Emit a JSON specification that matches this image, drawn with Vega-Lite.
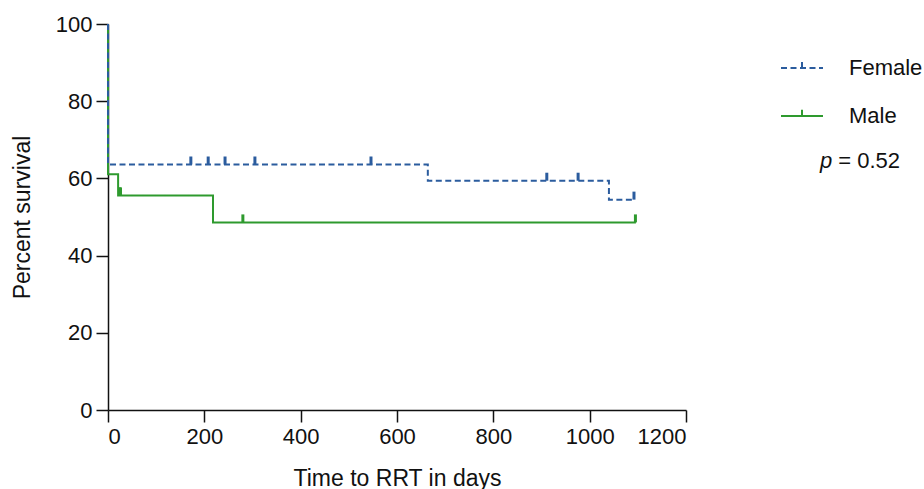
{
  "$schema": "https://vega.github.io/schema/vega-lite/v6.json",
  "width": 578,
  "height": 386,
  "autosize": {"type": "none"},
  "padding": {"left": 108, "top": 24, "right": 238, "bottom": 79},
  "background": "white",
  "config": {
    "font": "Liberation Sans",
    "view": {"stroke": null},
    "axis": {
      "domainColor": "#111", "domainWidth": 1.5, "tickColor": "#111", "tickWidth": 1.5,
      "labelColor": "#111", "titleColor": "#111", "labelFontSize": 22, "titleFontSize": 23,
      "titleFontWeight": "normal", "grid": false, "tickSize": 12, "labelPadding": 4
    },
    "legend": {
      "orient": "none", "legendX": 672, "legendY": 22,
      "symbolType": "M-1,0H1M0,0V-0.3", "symbolSize": 1764, "symbolStrokeWidth": 2,
      "labelFontSize": 22, "labelColor": "#111", "labelOffset": 25, "rowPadding": 15, "padding": 0
    }
  },
  "datasets": {
    "curves": [
      {"group": "Female", "t": 0, "s": 100},
      {"group": "Female", "t": 0, "s": 63.6},
      {"group": "Female", "t": 664, "s": 59.4},
      {"group": "Female", "t": 1040, "s": 54.5},
      {"group": "Female", "t": 1093, "s": 54.5},
      {"group": "Male", "t": 0, "s": 100},
      {"group": "Male", "t": 0, "s": 61.1},
      {"group": "Male", "t": 21, "s": 55.6},
      {"group": "Male", "t": 218, "s": 48.6},
      {"group": "Male", "t": 1096, "s": 48.6}
    ],
    "censors": [
      {"group": "Female", "t": 172, "s": 63.6},
      {"group": "Female", "t": 208, "s": 63.6},
      {"group": "Female", "t": 243, "s": 63.6},
      {"group": "Female", "t": 305, "s": 63.6},
      {"group": "Female", "t": 546, "s": 63.6},
      {"group": "Female", "t": 911, "s": 59.4},
      {"group": "Female", "t": 976, "s": 59.4},
      {"group": "Female", "t": 1092, "s": 54.5},
      {"group": "Male", "t": 24, "s": 55.6},
      {"group": "Male", "t": 26, "s": 55.6},
      {"group": "Male", "t": 280, "s": 48.6},
      {"group": "Male", "t": 1095, "s": 48.6}
    ],
    "ptext": [{"t": 1478, "s": 64.6}],
    "vtext": [{"t": 1516, "s": 64.6}]
  },
  "layer": [
    {
      "data": {"name": "curves"},
      "transform": [{"filter": "datum.group === 'Male'"}],
      "mark": {"type": "line", "interpolate": "step-after", "strokeWidth": 2},
      "encoding": {
        "x": {"field": "t", "type": "quantitative",
              "scale": {"domain": [0, 1200], "nice": false},
              "axis": {"values": [0, 200, 400, 600, 800, 1000, 1200], "format": "d", "title": "Time to RRT in days", "titlePadding": 20}},
        "y": {"field": "s", "type": "quantitative",
              "scale": {"domain": [0, 100], "nice": false},
              "axis": {"values": [0, 20, 40, 60, 80, 100], "title": "Percent survival", "titlePadding": 21}},
        "color": {"field": "group", "type": "nominal",
                  "scale": {"domain": ["Female", "Male"], "range": ["#2b5c9e", "#2e9a2e"]},
                  "legend": {"title": null}},
        "strokeDash": {"field": "group", "type": "nominal",
                       "scale": {"domain": ["Female", "Male"], "range": [[6, 3.5], [1, 0]]},
                       "legend": {"title": null}}
      }
    },
    {
      "data": {"name": "curves"},
      "transform": [{"filter": "datum.group === 'Female'"}],
      "mark": {"type": "line", "interpolate": "step-after", "strokeWidth": 2},
      "encoding": {
        "x": {"field": "t", "type": "quantitative"},
        "y": {"field": "s", "type": "quantitative"},
        "color": {"field": "group", "type": "nominal", "legend": {"title": null}},
        "strokeDash": {"field": "group", "type": "nominal", "legend": {"title": null}}
      }
    },
    {
      "data": {"name": "censors"},
      "mark": {"type": "tick", "orient": "vertical", "size": 8, "thickness": 3, "yOffset": -4, "opacity": 1},
      "encoding": {
        "x": {"field": "t", "type": "quantitative"},
        "y": {"field": "s", "type": "quantitative"},
        "color": {"field": "group", "type": "nominal", "legend": {"title": null}}
      }
    },
    {
      "data": {"name": "ptext"},
      "mark": {"type": "text", "text": "p", "fontStyle": "italic", "fontSize": 22, "align": "left", "baseline": "middle", "color": "#111"},
      "encoding": {
        "x": {"field": "t", "type": "quantitative"},
        "y": {"field": "s", "type": "quantitative"}
      }
    },
    {
      "data": {"name": "vtext"},
      "mark": {"type": "text", "text": "= 0.52", "fontSize": 22, "align": "left", "baseline": "middle", "color": "#111"},
      "encoding": {
        "x": {"field": "t", "type": "quantitative"},
        "y": {"field": "s", "type": "quantitative"}
      }
    }
  ]
}
